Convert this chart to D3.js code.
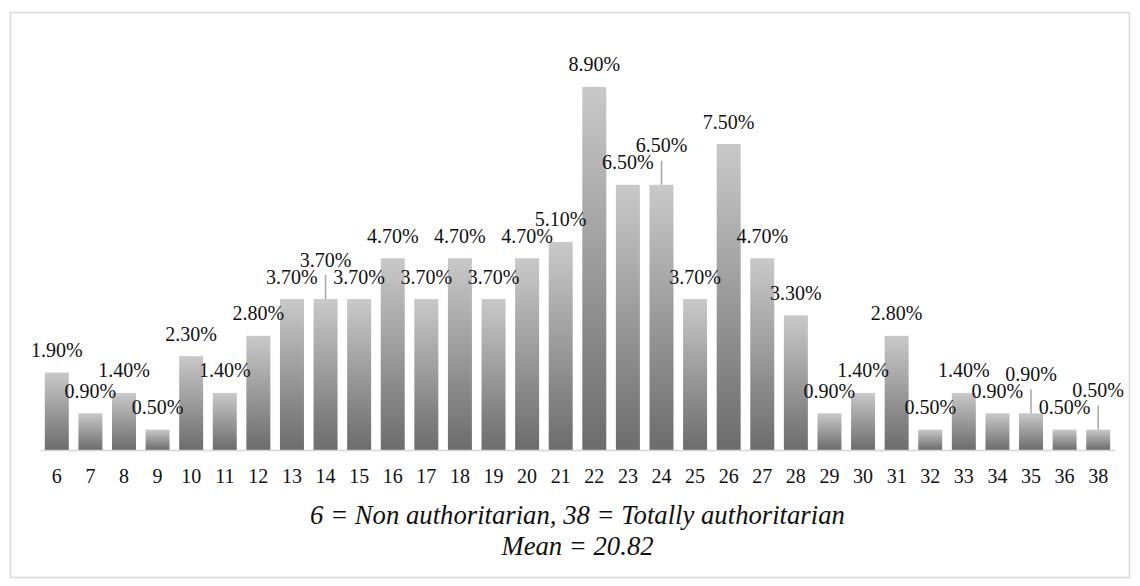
<!DOCTYPE html>
<html>
<head>
<meta charset="utf-8">
<script src="https://cdn.jsdelivr.net/npm/d3@7"></script>
<style>
  html, body { margin: 0; padding: 0; background: #fff; }
  svg { display: block; }
  text { font-family: "Liberation Serif", "Times New Roman", serif; fill: #111; }
</style>
</head>
<body>
<svg id="chart" width="1140" height="586"></svg>
<script>
// Score distribution (percent of respondents per scale score)
const categories = ["6","7","8","9","10","11","12","13","14","15","16","17","18","19","20",
  "21","22","23","24","25","26","27","28","29","30","31","32","33","34","35","36","38"];
const percents = [1.9,0.9,1.4,0.5,2.3,1.4,2.8,3.7,3.7,3.7,4.7,3.7,4.7,3.7,4.7,
  5.1,8.9,6.5,6.5,3.7,7.5,4.7,3.3,0.9,1.4,2.8,0.5,1.4,0.9,0.9,0.5,0.5];
// Scores whose value label sits higher, joined to its bar by a leader line
const leaderCategories = ["14","24","35","38"];
const captionLines = ["6 = Non authoritarian, 38 = Totally authoritarian", "Mean = 20.82"];

const svg = d3.select("#chart");

// Outer frame
svg.append("rect")
  .attr("x", 10.5).attr("y", 12.5)
  .attr("width", 1119).attr("height", 565)
  .attr("fill", "none").attr("stroke", "#d9d9d9").attr("stroke-width", 1.5);

// Vertical gradient applied per bar: light on top, darker at the base
const defs = svg.append("defs");
const grad = defs.append("linearGradient")
  .attr("id", "barFill").attr("x1", 0).attr("y1", 0).attr("x2", 0).attr("y2", 1);
grad.append("stop").attr("offset", "0%").attr("stop-color", "#c9c9c9");
grad.append("stop").attr("offset", "100%").attr("stop-color", "#6c6c6c");

const x = d3.scaleBand().domain(categories).range([40, 1115])
  .paddingInner(0.286).paddingOuter(0.143);
const y = d3.scaleLinear().domain([0, 10]).range([450, 42]);

const data = categories.map((c, i) => ({ cat: c, value: percents[i] }));

// Bars
svg.append("g").selectAll("rect").data(data).join("rect")
  .attr("x", d => x(d.cat))
  .attr("y", d => y(d.value))
  .attr("width", x.bandwidth())
  .attr("height", d => y(0) - y(d.value))
  .attr("fill", "url(#barFill)");

// Category axis
const axis = svg.append("g")
  .attr("transform", `translate(0,${y(0)})`)
  .call(d3.axisBottom(x).tickSizeInner(0).tickSizeOuter(0).tickPadding(19));
axis.select(".domain").attr("stroke", "#d4d4d4").attr("stroke-width", 1.5);
axis.selectAll("text")
  .attr("font-family", "'Liberation Serif', 'Times New Roman', serif")
  .attr("font-size", 20).attr("fill", "#111");

// Value labels, with leader lines for the raised ones
const labelGap = 15.5, raise = 17;
const labelY = d => y(d.value) - labelGap - (leaderCategories.includes(d.cat) ? raise : 0);
const fmt = d3.format(".2f");

svg.append("g").selectAll("line")
  .data(data.filter(d => leaderCategories.includes(d.cat))).join("line")
  .attr("x1", d => x(d.cat) + x.bandwidth() / 2)
  .attr("x2", d => x(d.cat) + x.bandwidth() / 2)
  .attr("y1", d => labelY(d) + 8.5)
  .attr("y2", d => y(d.value))
  .attr("stroke", "#a6a6a6").attr("stroke-width", 1.5);

svg.append("g").selectAll("text").data(data).join("text")
  .attr("x", d => x(d.cat) + x.bandwidth() / 2)
  .attr("y", labelY)
  .attr("text-anchor", "middle")
  .attr("font-size", 20)
  .text(d => fmt(d.value) + "%");

// Caption under the axis
svg.append("g").selectAll("text").data(captionLines).join("text")
  .attr("x", (40 + 1115) / 2)
  .attr("y", (d, i) => 524 + i * 31)
  .attr("text-anchor", "middle")
  .attr("font-size", 26.7)
  .attr("font-style", "italic")
  .text(d => d);
</script>
</body>
</html>
